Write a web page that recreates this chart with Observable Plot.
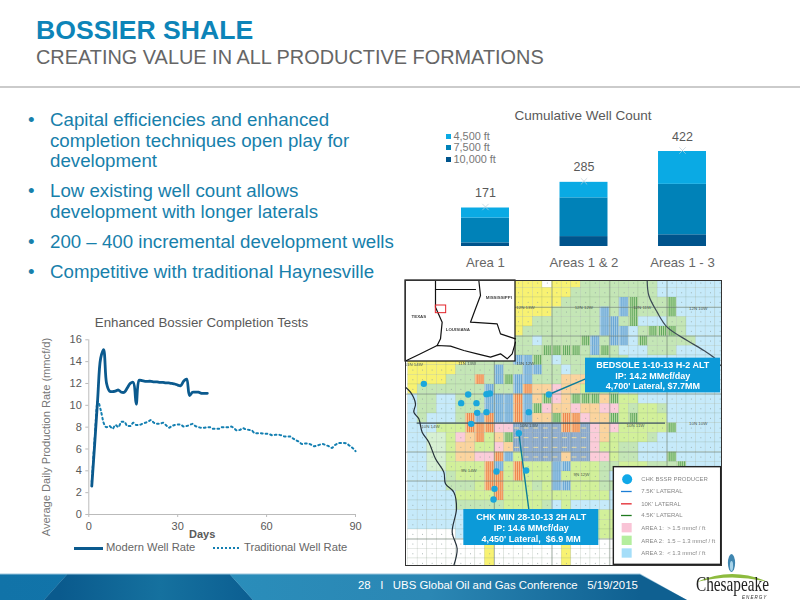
<!DOCTYPE html>
<html><head><meta charset="utf-8">
<script src="https://cdn.jsdelivr.net/npm/d3@7"></script>
<script src="https://cdn.jsdelivr.net/npm/@observablehq/plot@0.6"></script>
<style>
html,body{margin:0;padding:0;background:#fff}
#page{position:relative;width:800px;height:600px;overflow:hidden;font-family:"Liberation Sans",Arial,sans-serif;background:#fff}
.a{position:absolute;white-space:nowrap}
#bullets div.l{position:absolute;left:50px;color:#1780ab;font-size:18.7px;line-height:20px;white-space:nowrap}
#bullets div.b{position:absolute;left:28px;color:#1780ab;font-size:18.7px;line-height:20px}
.seg{position:absolute;left:0;top:0;width:800px;height:600px}
svg{overflow:visible}
</style></head><body><div id="page"></div>
<script>
// ---------- text ----------
const titleText = "BOSSIER SHALE";
const subtitleText = "CREATING VALUE IN ALL PRODUCTIVE FORMATIONS";
const bulletLines = [
  ["Capital efficiencies and enhanced", 120, true],
  ["completion techniques open play for", 141, false],
  ["development", 161, false],
  ["Low existing well count allows", 191, true],
  ["development with longer laterals", 212, false],
  ["200 – 400 incremental development wells", 242, true],
  ["Competitive with traditional Haynesville", 272, true]
];
const footerText = "28   I   UBS Global Oil and Gas Conference   5/19/2015";

// ---------- line chart data ----------
const modernRate = [2.6,6.5,10.6,14.3,15.1,12,11.3,11.25,11.3,11.4,11.2,11.2,11.6,12,12.1,10.1,12.3,12.25,12.2,12.2,12.2,12.15,12.15,12.1,12.1,12.05,12.05,12,11.95,11.85,11.8,12.2,12.4,10.9,11.2,11.2,11.2,11.1,11.1,11.1];
const traditionalRate = [3,7,10.4,9.6,8.4,8,8.1,7.85,8.2,8,8.5,8.5,8.1,8.1,8.4,8.2,8.2,8.3,8.4,8.5,8.65,8.4,8.3,8.3,8.4,8.2,7.95,8.1,8.2,8.25,8.25,8.05,8.1,8.2,8.3,8.1,8,7.95,7.95,8,8,7.85,7.85,7.85,8,8,8,8.05,7.9,7.7,7.75,7.9,7.8,7.75,7.7,7.45,7.45,7.45,7.4,7.4,7.35,7.25,7.3,7.3,7.25,7.15,7.15,7.15,6.95,6.8,6.65,6.45,6.5,6.5,6.4,6.25,6.3,6.4,6.45,6.35,6.25,6.1,6.35,6.5,6.55,6.55,6.5,6.3,6.1,5.8];
const dayTicks = [0,30,60,90];
const rateTicks = [0,2,4,6,8,10,12,14,16];

// ---------- bar chart data ----------
const areas = ["Area 1","Areas 1 & 2","Areas 1 - 3"];
const laterals = ["10,000 ft","7,500 ft","4,500 ft"];
const wells10000 = [16,44,52];
const wells7500 = [110,172,224];
const wells4500 = [45,69,146];
const wellTotals = [171,285,422];

// ---------- map data (survey grid) ----------
const mapRows = [
"...........yyywyyyggggggggbbbbbbb",
"...........yyyyyygggggggggbbbbbbb",
"...........yyyyyggggggusgggsbbbbb",
"...........yyyygggggugusgggsbbbbb",
"...........yyggggggguugsbbbggbbbb",
"...........ygggggggguuubgsssgbbbb",
"...........ggbggggsuguubsgggggbbb",
"...........gggssssgusgbbbgggbbbbb",
"yyyyyyggggguusgbgggggggbbbbbbbbbb",
"yyyyyggggugguuggbgggggggbbbbbbbbb",
"yyyygggrgusuugggooollllbbbbbbbbbb",
"ygggggggugguroopoollllbbbbbbbbbbb",
"bggbbggguuuruosposssosllbbbbbbbbb",
"bggbbggguuuruspoopoopplgllgbbbbbb",
"bgbbbgruruuruoosrrpooslslllbbbbbb",
"bbblllrrrppdddddrrdpoplllllsbbbbb",
"bbcclporlosddddddddpollllgbbbbbbb",
"bbccloollpoddddddddpllggbbbbbbbbb",
"bbccloopprulddddoddpplggbbbsbbbbb",
"bbccllllrulrllluulllgglllgggsbbbb",
"bbbbglllrrlrlllullllgbbbbbbbbbbbb",
"bbbbggglrrlllgluulllggbbbbbbbbbbb",
"bbbbblllirlllllllllllbbbbbbbbbbbb",
"bbbbbgggggllllgblbbbbbbbbbbbbbbbb",
"bbbbbbllllllllllllllllbbbbbbbbbbb",
"bbbbbbllllllllllllllllbbbbbbbbbbb",
"wwwwwbllllllllllllllllbbbbbbbbbbb",
"wwwwwwwwywwwwwwwywwwwwwwwwwwwwwww",
"wwwwwwwwywwwwwwwywwwwwwwwwwwwwwww",
"wwwwwwwwywwwwwwwywwwwwwwwwwwwwwww"
];
const cellKeys = ["y","g","l","b","p","o","w","c","r","s","u","d"];
const cellColors = ["#f8f272","#c4e6b6","#d2f09a","#c6eafa","#fbccd9","#fbd49e","#ffffff","#d6f0d2","#f9c690","#bfdfa8","#a8cfe8","#86a5c8"];
const stripeKeys = {r:"#e8662e",s:"#358f3e",u:"#4f95cc",d:"#a8c0d8"};
const columnLines = [282,455,628,800];
const rowLines = [96,182,356,530,617,791];
const leftRiver = [[15,335],[30,350],[45,385],[40,410],[55,430],[65,470],[85,500],[105,550],[130,590],[135,625],[160,650],[168,700],[155,770],[170,820],[160,870]];
const rightRiver = [[740,15],[745,60],[770,110],[800,155],[860,195],[910,225],[945,250],[960,270]];
const stateLines = [
 [[105,42],[225,42]],
 [[105,15],[105,95],[125,140],[120,190],[110,210]],
 [[18,255],[60,235],[110,210],[150,212],[190,225],[230,235],[270,245],[300,235],[320,250],[335,235],[345,200]],
 [[235,15],[240,60],[225,100],[210,140],[290,145],[300,175],[345,190]]
];
const wells = [[70,325],[203,357],[182,383],[228,383],[258,356],[268,354],[230,412],[258,410],[385,410],[212,445],[355,473],[288,588],[377,585],[282,640],[279,672],[445,357]];
const stateNames = [["MISSISSIPPI",295,65],["TEXAS",55,123],["LOUISIANA",172,162]];
const townshipNames = [["12N 13W",375,97],["12N 12W",550,95],["12N 11W",725,95],["12N 10W",893,98],["10N 10W",893,443],["9N 14W",205,585],["9N 12W",543,597],["10N 11W",705,450],["10N 14W",90,452],["11N 14W",40,267],["11N 13W",200,265],["11N 12W",375,265],["10N 13W",385,450]];
const calloutA = ["BEDSOLE 1-10-13 H-2 ALT","IP: 14.2 MMcf/day","4,700' Lateral, $7.7MM"];
const calloutB = ["CHK MIN 28-10-13 2H ALT","IP: 14.6 MMcf/day","4,450' Lateral,  $6.9 MM"];
const keyLabels = ["CHK BSSR PRODUCER","7.5K' LATERAL","10K' LATERAL","4.5K' LATERAL","AREA 1:  > 1.5 mmcf / ft","AREA 2:  1.5 – 1.3 mmcf / ft","AREA 3:  < 1.3 mmcf / ft"];

// ---------- helpers ----------
const page = document.getElementById("page");
function el(css, text, cls){const d=document.createElement("div");d.className=cls||"a";d.style.cssText=css;if(text!=null)d.textContent=text;page.appendChild(d);return d;}
function place(node,left,top){const w=document.createElement("div");w.style.cssText=`position:absolute;left:${left}px;top:${top}px`;w.appendChild(node);page.appendChild(w);return w;}
const FONT='"Liberation Sans",Arial,sans-serif';

// ---------- header ----------
el(`left:36px;top:15px;font-size:26.6px;font-weight:bold;color:#0d84b8`,titleText);
el(`left:36px;top:46px;font-size:19.9px;color:#666`,subtitleText);
el(`left:0;top:86px;width:800px;height:1.5px;background:#cbcbcb`);

// ---------- bullets ----------
const bl=document.createElement("div");bl.id="bullets";page.appendChild(bl);
for(const [t,y,b] of bulletLines){
  const d=document.createElement("div");d.className="l";d.style.top=(y-10)+"px";d.textContent=t;bl.appendChild(d);
  if(b){const e=document.createElement("div");e.className="b";e.style.top=(y-10)+"px";e.textContent="•";bl.appendChild(e);}
}

// ---------- bar chart ----------
el(`left:410px;width:346px;text-align:center;top:108px;font-size:13.5px;color:#595959`,"Cumulative Well Count");
const barRows = areas.flatMap((a,i)=>[
  {area:a,lateral:laterals[0],wells:wells10000[i]},
  {area:a,lateral:laterals[1],wells:wells7500[i]},
  {area:a,lateral:laterals[2],wells:wells4500[i]}]);
const totals = areas.map((a,i)=>({area:a,total:wellTotals[i]}));
const barPlot = Plot.plot({
  width:320,height:170,marginLeft:51,marginRight:24,marginTop:51,marginBottom:24,
  style:{fontFamily:FONT,background:"transparent",fontSize:"12px",color:"#595959"},
  x:{domain:areas,paddingInner:.513,paddingOuter:0,round:false,label:null},
  y:{domain:[0,422],axis:null},
  color:{domain:laterals,range:["#00548c","#0082b8","#0aaae4"]},
  marks:[
    Plot.axisX({tickSize:0,tickPadding:11,label:null,fill:"#666",fontSize:13.2}),
    Plot.barY(barRows,{x:"area",y:"wells",fill:"lateral",order:laterals}),
    Plot.dot(totals,{x:"area",y:"total",symbol:"times",r:3,stroke:"#b9cfda",strokeWidth:.7,dy:-1}),
    Plot.text(totals,{x:"area",y:"total",text:"total",dy:-15,fill:"#595959",fontSize:12.5})
  ]});
place(barPlot,410,100);
const barKeyColors = ["#0aaae4","#0082b8","#00548c"];
["4,500 ft","7,500 ft","10,000 ft"].forEach((t,i)=>{
  const y=[136.7,147.7,159][i];
  el(`left:445.7px;top:${y-2.5}px;width:5px;height:5px;background:${barKeyColors[i]}`);
  el(`left:453.5px;top:${y-6.5}px;font-size:10.9px;line-height:13px;color:#777`,t);
});

// ---------- line chart ----------
el(`left:30px;width:343px;text-align:center;top:315px;font-size:13.3px;color:#595959`,"Enhanced Bossier Completion Tests");
const modern = modernRate.map((v,i)=>({day:i+1,rate:v}));
const traditional = traditionalRate.map((v,i)=>({day:i+1,rate:v}));
const linePlot = Plot.plot({
  width:340,height:250,marginLeft:58.3,marginRight:15,marginTop:29.3,marginBottom:46,
  style:{fontFamily:FONT,background:"transparent",fontSize:"11px",color:"#595959"},
  x:{domain:[0,90],label:null},
  y:{domain:[0,16],label:null},
  marks:[
    Plot.axisX({ticks:dayTicks,tickFormat:d=>d,tickSize:3,tickPadding:5,stroke:"#bbb",fill:"#595959",fontSize:11,label:null}),
    Plot.axisY({ticks:rateTicks,tickSize:3,tickPadding:4,stroke:"#bbb",fill:"#595959",fontSize:11,label:null}),
    Plot.ruleY([0],{stroke:"#bbb"}),
    Plot.ruleX([0],{stroke:"#bbb"}),
    Plot.line(traditional,{x:"day",y:"rate",stroke:"#137fb1",strokeWidth:2,strokeDasharray:"1.7 3",curve:"monotone-x"}),
    Plot.line(modern,{x:"day",y:"rate",stroke:"#0b5a8e",strokeWidth:2.8,curve:"catmull-rom"})
  ]});
place(linePlot,30,310);
el(`left:46px;top:437px;transform:translate(-50%,-50%) rotate(-90deg);font-size:11.1px;color:#777`,"Average Daily Production Rate (mmcf/d)");
el(`left:189px;top:528px;font-size:11px;font-weight:bold;color:#595959`,"Days");
el(`left:74px;top:547px;width:29px;height:2.6px;background:#0b5a8e`);
el(`left:106px;top:541px;font-size:11.2px;color:#666`,"Modern Well Rate");
el(`left:213px;top:547px;width:26px;height:0;border-top:2px dotted #137fb1`);
el(`left:244px;top:541px;font-size:11.2px;color:#666`,"Traditional Well Rate");

// ---------- map ----------
const cells = mapRows.flatMap((row,r)=>Array.from(row).map((k,c)=>({k:k==="i"?"l":k,c,r}))).filter(d=>d.k!==".");
const colX=c=>22.8+28.8*c, rowY=r=>8+29*r;
const stripes = cells.filter(d=>stripeKeys[d.k]).flatMap(d=>[.2,.4,.6,.8].map(o=>({...d,o})));
const dCells = cells.filter(d=>d.k==="d");
const keyY=[611,648,685,720,758,796,834];
const mapPlot = Plot.plot({
  width:316,height:285,margin:0,
  style:{fontFamily:FONT,background:"#fff",filter:"blur(.4px)"},
  x:{domain:[15,963],range:[0,316],axis:null},
  y:{domain:[15,870],range:[0,285],axis:null},
  color:{domain:cellKeys,range:cellColors},
  marks:[
    Plot.rect(cells,{x1:d=>colX(d.c),x2:d=>colX(d.c+1),y1:d=>rowY(d.r),y2:d=>rowY(d.r+1),fill:"k",stroke:"#7f917f",strokeOpacity:.3,strokeWidth:.5,clip:true}),
    Plot.ruleX(stripes,{x:d=>colX(d.c+d.o),y1:d=>rowY(d.r),y2:d=>rowY(d.r+1),stroke:d=>stripeKeys[d.k],strokeWidth:.7,clip:true}),
    Plot.ruleY(dCells,{y:d=>rowY(d.r+.5),x1:d=>colX(d.c+.1),x2:d=>colX(d.c+.6),stroke:"#ecdca0",strokeWidth:1}),
    Plot.dot(cells.filter(d=>!stripeKeys[d.k]),{x:d=>colX(d.c+.5),y:d=>rowY(d.r+.5),r:.5,fill:"#93a3a0",clip:true}),
    Plot.ruleX(columnLines,{stroke:"#66756a",strokeWidth:.8,strokeOpacity:.6}),
    Plot.ruleY(rowLines,{stroke:"#66756a",strokeWidth:.8,strokeOpacity:.6}),
    Plot.ruleY([443],{x1:50,x2:795,stroke:"#3f5460",strokeWidth:1.2}),
    Plot.line(leftRiver,{x:d=>d[0],y:d=>d[1],stroke:"#25303a",strokeWidth:1.2,curve:"catmull-rom"}),
    Plot.line(rightRiver,{x:d=>d[0],y:d=>d[1],stroke:"#3c4a55",strokeWidth:1.2,curve:"catmull-rom"}),
    Plot.text(townshipNames,{x:d=>d[1],y:d=>d[2],text:d=>d[0],fontSize:4.4,fill:"#4b5a50"}),
    Plot.line([[445,357],[555,310]],{x:d=>d[0],y:d=>d[1],stroke:"#0e7c9a",strokeWidth:1.4}),
    Plot.line([[355,473],[385,702]],{x:d=>d[0],y:d=>d[1],stroke:"#0e7c9a",strokeWidth:1.4}),
    Plot.dot(wells,{x:d=>d[0],y:d=>d[1],r:3.2,fill:"#1aa7dc"}),
    // inset locator
    Plot.rect([0],{x1:15,x2:345,y1:15,y2:258,fill:"#fff",stroke:"#111",strokeWidth:1.2}),
    ...stateLines.map(s=>Plot.line(s,{x:d=>d[0],y:d=>d[1],stroke:"#111",strokeWidth:1.2})),
    Plot.rect([0],{x1:106,x2:137,y1:90,y2:113,stroke:"#e3242b",strokeWidth:1,fill:"none"}),
    Plot.text(stateNames,{x:d=>d[1],y:d=>d[2],text:d=>d[0],fontSize:4.4,fontWeight:"bold",fill:"#444"}),
    // callouts
    Plot.rect([0],{x1:555,x2:960,y1:248,y2:352,fill:"#0c9ad8"}),
    Plot.rect([0],{x1:190,x2:595,y1:702,y2:810,fill:"#0c9ad8"}),
    Plot.text(calloutA,{x:757,y:(d,i)=>[270,302,333][i],text:d=>d,fill:"#fff",fontSize:9,fontWeight:"bold"}),
    Plot.text(calloutB,{x:392,y:(d,i)=>[725,757,790][i],text:d=>d,fill:"#fff",fontSize:9,fontWeight:"bold"}),
    // map key
    Plot.rect([0],{x1:640,x2:962,y1:575,y2:868,fill:"#fff",stroke:"#222",strokeWidth:1.4}),
    Plot.dot([0],{x:680,y:611,r:5,fill:"#10a8e8"}),
    Plot.ruleY([0,1,2],{y:(d,i)=>keyY[i+1],x1:663,x2:695,stroke:(d,i)=>["#1c7ed6","#e3242b","#1f7a1f"][i],strokeWidth:1.3}),
    Plot.rect([0,1,2],{x1:665,x2:695,y1:(d,i)=>keyY[i+4]-14,y2:(d,i)=>keyY[i+4]+14,fill:(d,i)=>["#f9c4d6","#b4ee9e","#a5def9"][i]}),
    Plot.text(keyLabels,{x:722,y:(d,i)=>keyY[i],text:d=>d,textAnchor:"start",fontSize:6,fill:"#888"}),
    Plot.frame({stroke:"#333",strokeWidth:1})
  ]});
place(mapPlot,405,280);

// ---------- footer band ----------
el(`clip-path:polygon(0 573.5px,640px 573.5px,687px 600px,0 600px);background:#9cc6dd`,null,"seg");
el(`clip-path:polygon(0 574.5px,67px 574.5px,44px 600px,0 600px);background:linear-gradient(90deg,#1173a8,#1a7fb4)`,null,"seg");
el(`clip-path:polygon(67px 574.5px,230px 574.5px,253px 600px,44px 600px);background:linear-gradient(90deg,#0a5a8d 0,#0a5a8d 60px,#15719f 160px,#0c5f92 250px)`,null,"seg");
el(`clip-path:polygon(230px 574.5px,640px 574.5px,687px 600px,253px 600px);background:linear-gradient(90deg,#2a8dba 230px,#2b87b4 430px,#0f6091 640px)`,null,"seg");
el(`left:358px;top:578.5px;font-size:11.4px;color:#fff;white-space:pre`,footerText);

// ---------- logo ----------
const logo=document.createElementNS("http://www.w3.org/2000/svg","svg");
logo.setAttribute("width",800);logo.setAttribute("height",600);logo.style.cssText="position:absolute;left:0;top:0";
logo.innerHTML=`<ellipse cx="731.5" cy="563" rx="3.6" ry="9" fill="#3f86b0"/><ellipse cx="731.5" cy="566" rx="1.6" ry="5" fill="#a8d4ea"/>
<path d="M697 582 Q732 566 768 582 Q732 573 697 582Z" fill="#8dbb3e"/>
<text x="696" y="591" font-family="Liberation Serif" font-size="22" textLength="73" lengthAdjust="spacingAndGlyphs" fill="#222">Chesapeake</text>
<text x="742" y="598.5" font-family="Liberation Sans" font-size="4.6" font-style="italic" letter-spacing="1" fill="#333">ENERGY</text>`;
page.appendChild(logo);
</script></body></html>
